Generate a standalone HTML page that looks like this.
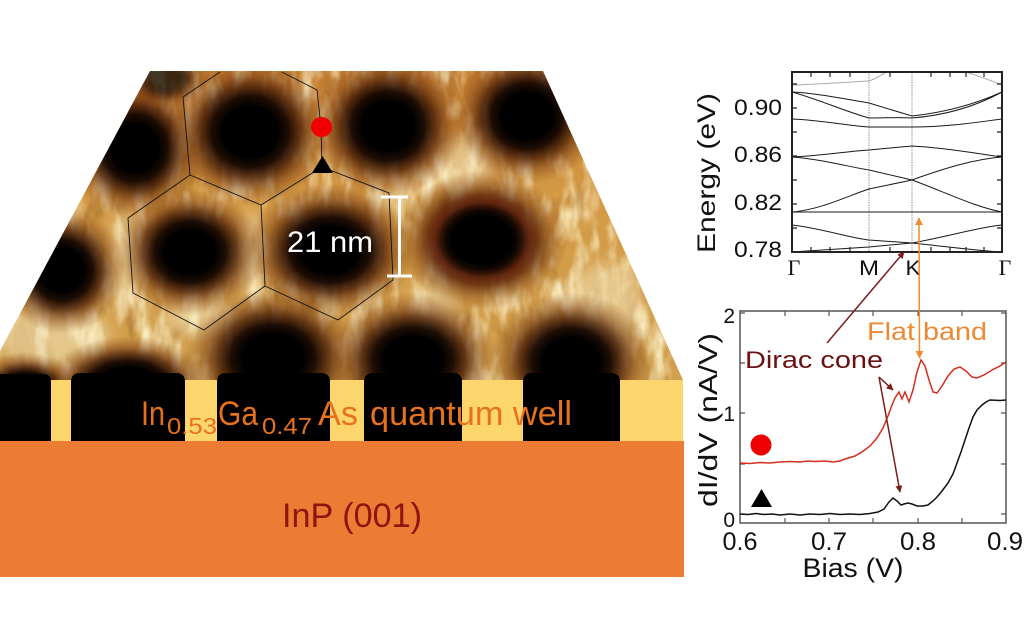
<!DOCTYPE html>
<html>
<head>
<meta charset="utf-8">
<style>
html,body{margin:0;padding:0;background:#fff;}
svg{display:block;}
text{font-family:"Liberation Sans",Arial,sans-serif;}
</style>
</head>
<body>
<svg width="1029" height="635" viewBox="0 0 1029 635" xmlns="http://www.w3.org/2000/svg">
<defs>
  <clipPath id="trap"><polygon points="150,71 543,71 683,380 683,384 0,384 0,351"/></clipPath>
  <clipPath id="bandclip"><rect x="792" y="72" width="210" height="180"/></clipPath>
  <linearGradient id="base" x1="0" y1="71" x2="0" y2="384" gradientUnits="userSpaceOnUse">
    <stop offset="0" stop-color="#c27c30"/>
    <stop offset="0.4" stop-color="#d49a46"/>
    <stop offset="1" stop-color="#d0a04e"/>
  </linearGradient>
  <radialGradient id="hole">
    <stop offset="0" stop-color="#000" stop-opacity="1"/>
    <stop offset="0.34" stop-color="#000" stop-opacity="1"/>
    <stop offset="0.48" stop-color="#140500" stop-opacity="0.95"/>
    <stop offset="0.63" stop-color="#4a1e05" stop-opacity="0.8"/>
    <stop offset="0.8" stop-color="#7a3c10" stop-opacity="0.45"/>
    <stop offset="1" stop-color="#8a4a15" stop-opacity="0"/>
  </radialGradient>
  <radialGradient id="redring">
    <stop offset="0.42" stop-color="#a03010" stop-opacity="0"/>
    <stop offset="0.55" stop-color="#a03010" stop-opacity="0.35"/>
    <stop offset="0.72" stop-color="#a03010" stop-opacity="0"/>
  </radialGradient>
  <filter id="texL" x="0" y="60" width="700" height="340" filterUnits="userSpaceOnUse">
    <feTurbulence type="fractalNoise" baseFrequency="0.06 0.025" numOctaves="3" seed="4"/>
    <feColorMatrix type="matrix" values="0 0 0 0 0.98  0 0 0 0 0.88  0 0 0 0 0.58  2.4 0 0 0 -1.05"/>
  </filter>
  <filter id="texD" x="0" y="60" width="700" height="340" filterUnits="userSpaceOnUse">
    <feTurbulence type="fractalNoise" baseFrequency="0.05 0.022" numOctaves="3" seed="9"/>
    <feColorMatrix type="matrix" values="0 0 0 0 0.40  0 0 0 0 0.18  0 0 0 0 0.03  -2.8 0 0 0 1.2"/>
  </filter>
  <filter id="blur8" x="-50%" y="-50%" width="200%" height="200%"><feGaussianBlur stdDeviation="8"/></filter>
  <marker id="ahR" viewBox="0 0 10 10" refX="9" refY="5" markerWidth="7" markerHeight="7" orient="auto-start-reverse" markerUnits="userSpaceOnUse">
    <path d="M0,0 L10,5 L0,10 z" fill="#7a1c1c"/>
  </marker>
  <marker id="ahO" viewBox="0 0 10 10" refX="9" refY="5" markerWidth="8" markerHeight="8" orient="auto-start-reverse" markerUnits="userSpaceOnUse">
    <path d="M0,0 L10,5 L0,10 z" fill="#f08a30"/>
  </marker>
</defs>

<!-- ============ STM image ============ -->
<g clip-path="url(#trap)">
  <rect x="0" y="60" width="700" height="330" fill="url(#base)"/>
  <rect x="0" y="60" width="700" height="330" filter="url(#texD)"/>
  <g filter="url(#blur8)" fill="#f0ddae" opacity="0.65">
    <ellipse cx="50" cy="335" rx="60" ry="30"/>
    <ellipse cx="125" cy="260" rx="15" ry="50"/>
    <ellipse cx="250" cy="255" rx="13" ry="45"/>
    <ellipse cx="200" cy="318" rx="38" ry="18"/>
    <ellipse cx="435" cy="305" rx="22" ry="30"/>
    <ellipse cx="605" cy="305" rx="38" ry="42"/>
    <ellipse cx="462" cy="165" rx="32" ry="26"/>
    <ellipse cx="395" cy="200" rx="20" ry="14"/>
  </g>
  <rect x="0" y="60" width="700" height="330" filter="url(#texL)"/>
  <g>
    <ellipse cx="135" cy="148" rx="68" ry="70" fill="url(#hole)"/>
    <ellipse cx="250" cy="132" rx="80" ry="74" fill="url(#hole)"/>
    <ellipse cx="388" cy="126" rx="76" ry="72" fill="url(#hole)"/>
    <ellipse cx="527" cy="116" rx="74" ry="68" fill="url(#hole)"/>
    <ellipse cx="62" cy="270" rx="64" ry="64" fill="url(#hole)"/>
    <ellipse cx="190" cy="252" rx="74" ry="64" fill="url(#hole)"/>
    <ellipse cx="330" cy="250" rx="84" ry="68" fill="url(#hole)"/>
    <ellipse cx="482" cy="240" rx="86" ry="70" fill="url(#hole)"/>
    <ellipse cx="482" cy="240" rx="86" ry="70" fill="url(#redring)"/>
    <ellipse cx="273" cy="358" rx="88" ry="70" fill="url(#hole)"/>
    <ellipse cx="413" cy="360" rx="84" ry="68" fill="url(#hole)"/>
    <ellipse cx="571" cy="362" rx="82" ry="70" fill="url(#hole)"/>
    <ellipse cx="128" cy="384" rx="82" ry="48" fill="url(#hole)"/>
    <ellipse cx="25" cy="390" rx="56" ry="38" fill="url(#hole)"/>
    <ellipse cx="165" cy="78" rx="44" ry="32" fill="url(#hole)" opacity="0.7"/>
  </g>
  <g stroke="#111" stroke-width="0.9" fill="none">
    <polyline points="220,72 183,97 190,175 261,205 322,167 321,127 317,90 282,72"/>
    <polyline points="190,175 128,218 133,293 204,330 265,286 261,205"/>
    <polyline points="322,167 389,193 393,280 338,320 265,286"/>
  </g>
  <ellipse cx="321.5" cy="127" rx="10.5" ry="10" fill="#f00000"/>
  <polygon points="312,173 333,173 322.5,156" fill="#000"/>
  <g stroke="#fff" stroke-width="3" fill="none">
    <line x1="399.5" y1="197" x2="399.5" y2="276"/>
    <line x1="381" y1="197" x2="408" y2="197"/>
    <line x1="387" y1="276" x2="412" y2="276"/>
  </g>
  <text x="287" y="252" font-size="30" fill="#fff" textLength="86" lengthAdjust="spacingAndGlyphs">21 nm</text>
</g>

<!-- quantum well stripes -->
<rect x="0" y="380" width="683" height="62" fill="#fcd56c"/>
<g fill="#000">
  <path d="M0,374 L43,374 Q51,374 51,382 L51,442 L0,442 Z"/>
  <path d="M71,382 Q71,373 80,373 L176,373 Q185,373 185,382 L185,442 L71,442 Z"/>
  <path d="M217,382 Q217,373 226,373 L321,373 Q330,373 330,382 L330,442 L217,442 Z"/>
  <path d="M364,382 Q364,373 373,373 L453,373 Q462,373 462,382 L462,442 L364,442 Z"/>
  <path d="M523,382 Q523,373 532,373 L611,373 Q620,373 620,382 L620,442 L523,442 Z"/>
</g>
<g fill="#e8721c">
  <text x="141" y="425" font-size="34" textLength="24" lengthAdjust="spacingAndGlyphs">In</text>
  <text x="167" y="434" font-size="23" textLength="50" lengthAdjust="spacingAndGlyphs">0.53</text>
  <text x="218" y="425" font-size="34" textLength="40" lengthAdjust="spacingAndGlyphs">Ga</text>
  <text x="262" y="434" font-size="23" textLength="50" lengthAdjust="spacingAndGlyphs">0.47</text>
  <text x="318" y="425" font-size="34" textLength="40" lengthAdjust="spacingAndGlyphs">As</text>
  <text x="370" y="425" font-size="34" textLength="202" lengthAdjust="spacingAndGlyphs">quantum well</text>
</g>

<rect x="0" y="441" width="684" height="136" fill="#ec7c34"/>
<text x="352" y="527" font-size="34" fill="#8e1410" text-anchor="middle" textLength="140" lengthAdjust="spacingAndGlyphs">InP (001)</text>

<!-- ============ Band structure ============ -->
<g clip-path="url(#bandclip)" fill="none">
  <line x1="869" y1="72" x2="869" y2="252" stroke="#777" stroke-width="0.8" stroke-dasharray="1.5,1"/>
  <line x1="912" y1="72" x2="912" y2="252" stroke="#777" stroke-width="0.8" stroke-dasharray="1.5,1"/>
  <g stroke="#aaa" stroke-width="1">
    <path d="M792,85 C820,84 850,82 869,81 C875,79 882,75 888,71"/>
    <path d="M963,71 C975,75 990,80 1002,85"/>
  </g>
  <g stroke="#1a1a1a" stroke-width="1">
    <path d="M792,92 C815,93 845,99 869,103 L912,116 C950,112 980,102 1002,92"/>
    <path d="M792,92 C820,100 850,113 869,118 C885,118 900,117 912,118 C950,115 980,104 1002,92"/>
    <path d="M792,119 C820,120 850,126 869,127 L912,127 C950,127 985,121 1002,119"/>
    <path d="M792,157 C820,156 850,151 869,150 L912,146 C950,148 985,155 1002,157"/>
    <path d="M792,157 C820,159 850,167 869,170 L912,180 C945,192 975,207 1002,212"/>
    <path d="M792,212 C820,210 850,195 869,189 L912,180 C945,168 975,159 1002,157"/>
    <path d="M792,212 L1002,212"/>
    <path d="M792,225 C820,228 850,238 869,240 L912,243 C950,236 980,227 1002,225"/>
    <path d="M792,252 C820,250 850,248 869,247 L912,243 C950,247 980,251 1002,252"/>
  </g>
</g>
<rect x="792" y="72" width="210" height="180" fill="none" stroke="#222" stroke-width="2"/>
<g stroke="#222" stroke-width="1.2">
  <path d="M792,84h5M792,108h5M792,132h5M792,156h5M792,180h5M792,204h5M792,228h5"/>
  <path d="M1002,84h-5M1002,108h-5M1002,132h-5M1002,156h-5M1002,180h-5M1002,204h-5M1002,228h-5"/>
  <path d="M811,72v5M830,72v5M850,72v5M890,72v5M931,72v5M950,72v5M966,72v5M984,72v5"/>
  <path d="M811,252v-5M830,252v-5M850,252v-5M890,252v-5M931,252v-5M950,252v-5M966,252v-5M984,252v-5"/>
</g>
<g font-size="22" fill="#111" text-anchor="end">
  <text x="782" y="115" textLength="48" lengthAdjust="spacingAndGlyphs">0.90</text>
  <text x="782" y="162" textLength="48" lengthAdjust="spacingAndGlyphs">0.86</text>
  <text x="782" y="210" textLength="48" lengthAdjust="spacingAndGlyphs">0.82</text>
  <text x="782" y="257" textLength="48" lengthAdjust="spacingAndGlyphs">0.78</text>
</g>
<text transform="translate(715,173) rotate(-90)" font-size="25" fill="#111" text-anchor="middle" textLength="160" lengthAdjust="spacingAndGlyphs">Energy (eV)</text>
<g font-size="21" fill="#111" text-anchor="middle">
  <text x="794" y="275" style="font-family:'Liberation Serif',serif" font-size="22">Γ</text>
  <text x="869" y="275" textLength="20" lengthAdjust="spacingAndGlyphs">M</text>
  <text x="913" y="275" textLength="15" lengthAdjust="spacingAndGlyphs">K</text>
  <text x="1005" y="275" style="font-family:'Liberation Serif',serif" font-size="22">Γ</text>
</g>

<!-- ============ dI/dV plot ============ -->
<rect x="740" y="311" width="266" height="212" fill="none" stroke="#555" stroke-width="1.5"/>
<g stroke="#555" stroke-width="1.2">
  <path d="M740,514h5M740,464h5M740,413h5M740,363h5M740,313h5"/>
  <path d="M1006,514h-5M1006,464h-5M1006,413h-5M1006,363h-5M1006,313h-5"/>
  <path d="M785,523v-5M829,523v-5M873,523v-5M918,523v-5M962,523v-5"/>
  <path d="M785,311v5M829,311v5M873,311v5M918,311v5M962,311v5"/>
</g>
<polyline fill="none" stroke="#d42e20" stroke-width="1.5" points="740,463 750,463.5 760,462.5 770,463 780,462 790,461.5 800,462 808,461 815,461.5 825,461 833,462 840,461 845,459 855,456 862,452 870,446 877,438 883,428 888,416 892,405 895,398 899,392 902,399 905,392 909,402 913,390 917,372 921,360 925,366 929,380 933,392 937,393 942,386 948,376 954,369 960,367 966,371 972,377 977,378 984,375 992,370 1000,366 1006,362"/>
<polyline fill="none" stroke="#111" stroke-width="1.5" points="740,514 748,514.5 756,513.5 764,514.5 772,514 780,515 790,514 800,515 810,514 820,514.5 830,513.5 840,514.5 850,514 860,514.5 870,513.5 878,512 884,509 889,502 893,498 897,501 901,505 904,504 908,503 912,504 917,506 923,506 928,505 933,501 937,497 942,491 948,483 953,474 957,463 961,452 965,440 969,428 973,417 977,410 982,405 986,402 990,400 1000,400.5 1006,400"/>
<circle cx="761" cy="445" r="10.5" fill="#f00000"/>
<polygon points="751,507 772,507 761.5,489" fill="#000"/>
<g font-size="21" fill="#111" text-anchor="end">
  <text x="735" y="323">2</text>
  <text x="735" y="421">1</text>
  <text x="735" y="527">0</text>
</g>
<g font-size="25" fill="#111" text-anchor="middle">
  <text x="740" y="550" textLength="35" lengthAdjust="spacingAndGlyphs">0.6</text>
  <text x="829" y="550" textLength="36" lengthAdjust="spacingAndGlyphs">0.7</text>
  <text x="918" y="550" textLength="36" lengthAdjust="spacingAndGlyphs">0.8</text>
  <text x="1005" y="550" textLength="36" lengthAdjust="spacingAndGlyphs">0.9</text>
</g>
<text x="853" y="577" font-size="27" fill="#111" text-anchor="middle" textLength="101" lengthAdjust="spacingAndGlyphs">Bias (V)</text>
<text transform="translate(717,420) rotate(-90)" font-size="26" fill="#111" text-anchor="middle" textLength="174" lengthAdjust="spacingAndGlyphs">dI/dV (nA/V)</text>

<text x="745" y="368" font-size="24" fill="#6b1111" textLength="138" lengthAdjust="spacingAndGlyphs">Dirac cone</text>
<text x="867" y="340" font-size="25" fill="#ec8a33" textLength="120" lengthAdjust="spacingAndGlyphs">Flat band</text>
<g stroke="#7a1c1c" stroke-width="1.5" fill="none">
  <line x1="827" y1="343" x2="904" y2="252" marker-end="url(#ahR)"/>
  <line x1="879" y1="377" x2="893" y2="390" marker-end="url(#ahR)"/>
  <line x1="879" y1="377" x2="900" y2="492" marker-end="url(#ahR)"/>
</g>
<line x1="919" y1="218" x2="919.5" y2="358" stroke="#f08a30" stroke-width="1.5" marker-start="url(#ahO)" marker-end="url(#ahO)"/>
</svg>
</body>
</html>
